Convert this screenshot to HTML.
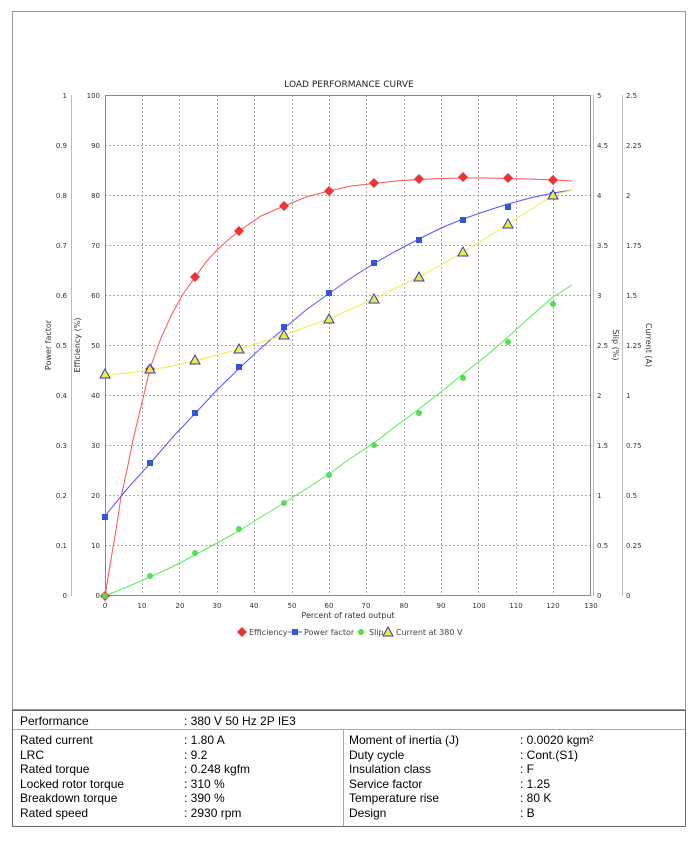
<!DOCTYPE html>
<html><head><meta charset="utf-8"><style>
body{margin:0;background:#fff;width:698px;height:841px;position:relative;font-family:"Liberation Sans",sans-serif}
.t{position:absolute;font-size:12px;color:#000}
</style></head><body>
<svg width="698" height="841" style="position:absolute;left:0;top:0" font-family="DejaVu Sans, sans-serif">
<rect x="12.5" y="11.5" width="673" height="698" fill="none" stroke="#999"/>
<text x="349" y="87" font-size="9" text-anchor="middle" fill="#222">LOAD PERFORMANCE CURVE</text>
<g stroke="#aaa" stroke-dasharray="2,2" stroke-width="1">
<line x1="142.5" y1="95" x2="142.5" y2="596"/><line x1="179.5" y1="95" x2="179.5" y2="596"/><line x1="217.5" y1="95" x2="217.5" y2="596"/><line x1="254.5" y1="95" x2="254.5" y2="596"/><line x1="292.5" y1="95" x2="292.5" y2="596"/><line x1="329.5" y1="95" x2="329.5" y2="596"/><line x1="366.5" y1="95" x2="366.5" y2="596"/><line x1="404.5" y1="95" x2="404.5" y2="596"/><line x1="441.5" y1="95" x2="441.5" y2="596"/><line x1="478.5" y1="95" x2="478.5" y2="596"/><line x1="516.5" y1="95" x2="516.5" y2="596"/><line x1="553.5" y1="95" x2="553.5" y2="596"/>
<line x1="105" y1="145.5" x2="591" y2="145.5"/><line x1="105" y1="195.5" x2="591" y2="195.5"/><line x1="105" y1="245.5" x2="591" y2="245.5"/><line x1="105" y1="295.5" x2="591" y2="295.5"/><line x1="105" y1="345.5" x2="591" y2="345.5"/><line x1="105" y1="395.5" x2="591" y2="395.5"/><line x1="105" y1="445.5" x2="591" y2="445.5"/><line x1="105" y1="495.5" x2="591" y2="495.5"/><line x1="105" y1="545.5" x2="591" y2="545.5"/>
</g>
<rect x="105.5" y="95.5" width="485" height="500" fill="none" stroke="#888"/>
<g stroke="#bbb"><line x1="71.5" y1="95" x2="71.5" y2="596"/><line x1="593.5" y1="95" x2="593.5" y2="596"/><line x1="622.5" y1="95" x2="622.5" y2="596"/></g>
<g font-size="7" fill="#333" text-anchor="end">
<text x="67" y="98">1</text><text x="67" y="148">0.9</text><text x="67" y="198">0.8</text><text x="67" y="248">0.7</text><text x="67" y="298">0.6</text><text x="67" y="348">0.5</text><text x="67" y="398">0.4</text><text x="67" y="448">0.3</text><text x="67" y="498">0.2</text><text x="67" y="548">0.1</text><text x="67" y="598">0</text>
<text x="100" y="98">100</text><text x="100" y="148">90</text><text x="100" y="198">80</text><text x="100" y="248">70</text><text x="100" y="298">60</text><text x="100" y="348">50</text><text x="100" y="398">40</text><text x="100" y="448">30</text><text x="100" y="498">20</text><text x="100" y="548">10</text><text x="100" y="598">0</text>
</g>
<g font-size="7" fill="#333">
<text x="597" y="98">5</text><text x="597" y="148">4.5</text><text x="597" y="198">4</text><text x="597" y="248">3.5</text><text x="597" y="298">3</text><text x="597" y="348">2.5</text><text x="597" y="398">2</text><text x="597" y="448">1.5</text><text x="597" y="498">1</text><text x="597" y="548">0.5</text><text x="597" y="598">0</text>
<text x="626" y="98">2.5</text><text x="626" y="148">2.25</text><text x="626" y="198">2</text><text x="626" y="248">1.75</text><text x="626" y="298">1.5</text><text x="626" y="348">1.25</text><text x="626" y="398">1</text><text x="626" y="448">0.75</text><text x="626" y="498">0.5</text><text x="626" y="548">0.25</text><text x="626" y="598">0</text>
</g>
<g font-size="7" fill="#333" text-anchor="middle">
<text x="105" y="608">0</text><text x="142" y="608">10</text><text x="180" y="608">20</text><text x="217" y="608">30</text><text x="254" y="608">40</text><text x="292" y="608">50</text><text x="329" y="608">60</text><text x="366" y="608">70</text><text x="404" y="608">80</text><text x="441" y="608">90</text><text x="479" y="608">100</text><text x="516" y="608">110</text><text x="553" y="608">120</text><text x="591" y="608">130</text>
<text x="348" y="618" font-size="8">Percent of rated output</text>
<text transform="translate(51,345) rotate(-90)" font-size="8">Power factor</text>
<text transform="translate(80,345) rotate(-90)" font-size="8">Efficiency (%)</text>
<text transform="translate(613,345) rotate(90)" font-size="8">Slip (%)</text>
<text transform="translate(646,345) rotate(90)" font-size="8">Current (A)</text>
</g>
<g fill="none" stroke-width="1">
<polyline stroke="#f55" points="105,596 110,565 116,530 121,497 127,470 133,440 139,415 145,390 150,368.5 161,338 172,314 183,294 195,277.5 206,262 217,250 228,240 239,231 261,216 284,206 306,197 329,191 351,186 374,183.5 396,181 419,179.5 441,178.5 463,178 486,178 508,178.5 530,179 553,180 572,181"/>
<polyline stroke="#55f" points="105,516 127,489 150,463.5 172,438 195,413.5 217,390 239,368.5 261,348 284,328.5 306,310 329,293.5 351,278 374,263.5 396,251 419,239 441,228 463,219 486,211 508,204 530,198 553,193 572,190"/>
<polyline stroke="#5e5" points="105,596 127,587 150,577 172,567 195,555 217,543 239,531 261,517 284,503 306,489 329,474 351,458 374,443 396,426 419,409 441,392 463,374 486,356 508,337 530,317 553,297 572,285"/>
<polyline stroke="#ee4" points="105,375 127,373 150,370 172,366 195,361 217,355 239,349 261,342 284,335 306,327 329,319 351,309 374,299 396,288 419,277 441,265 463,252 486,238 508,224 530,210 553,195 572,190"/>
</g>
<g fill="#e33">
<path d="M105,591l5,5-5,5-5-5z"/><path d="M150,364l5,5-5,5-5-5z"/><path d="M195,272l5,5-5,5-5-5z"/><path d="M239,226l5,5-5,5-5-5z"/><path d="M284,201l5,5-5,5-5-5z"/><path d="M329,186l5,5-5,5-5-5z"/><path d="M374,178l5,5-5,5-5-5z"/><path d="M419,174l5,5-5,5-5-5z"/><path d="M463,172l5,5-5,5-5-5z"/><path d="M508,173l5,5-5,5-5-5z"/><path d="M553,175l5,5-5,5-5-5z"/>
</g>
<g fill="#3355dd">
<rect x="102" y="514" width="6" height="6"/><rect x="147" y="460" width="6" height="6"/><rect x="192" y="410" width="6" height="6"/><rect x="236" y="364" width="6" height="6"/><rect x="281" y="324" width="6" height="6"/><rect x="326" y="290" width="6" height="6"/><rect x="371" y="260" width="6" height="6"/><rect x="416" y="237" width="6" height="6"/><rect x="460" y="217" width="6" height="6"/><rect x="505" y="204" width="6" height="6"/><rect x="550" y="192" width="6" height="6"/>
</g>
<g fill="#5d5">
<circle cx="105" cy="596" r="3"/><circle cx="150" cy="576" r="3"/><circle cx="195" cy="553" r="3"/><circle cx="239" cy="529" r="3"/><circle cx="284" cy="503" r="3"/><circle cx="329" cy="475" r="3"/><circle cx="374" cy="445" r="3"/><circle cx="419" cy="413" r="3"/><circle cx="463" cy="378" r="3"/><circle cx="508" cy="342" r="3"/><circle cx="553" cy="304" r="3"/>
</g>
<g fill="#ee3" stroke="#33c">
<path d="M105,369l5,9h-10z"/><path d="M150,364l5,9h-10z"/><path d="M195,355l5,9h-10z"/><path d="M239,344l5,9h-10z"/><path d="M284,330l5,9h-10z"/><path d="M329,314l5,9h-10z"/><path d="M374,294l5,9h-10z"/><path d="M419,272l5,9h-10z"/><path d="M463,247l5,9h-10z"/><path d="M508,219l5,9h-10z"/><path d="M553,190l5,9h-10z"/>
</g>
<g font-size="8" fill="#444">
<path d="M242,627l5,5-5,5-5-5z" fill="#e33"/><text x="249" y="635">Efficiency</text>
<line x1="288" y1="632" x2="302" y2="632" stroke="#55f"/><rect x="292" y="629" width="6" height="6" fill="#3355dd"/><text x="304" y="635">Power factor</text>
<line x1="355" y1="632" x2="367" y2="632" stroke="#ee4"/><circle cx="361" cy="632" r="3" fill="#5d5"/><text x="369" y="635">Slip</text>
<path d="M388,627l5,9h-10z" fill="#ee3" stroke="#33c"/><text x="396" y="635">Current at 380 V</text>
</g>
<rect x="12.5" y="710.5" width="673" height="116" fill="none" stroke="#666"/>
<line x1="13" y1="729.5" x2="685" y2="729.5" stroke="#aaa"/>
<line x1="343.5" y1="730" x2="343.5" y2="826" stroke="#aaa"/>
</svg>
<div class="t" style="left:20px;top:714px">Performance</div><div class="t" style="left:184px;top:714px">: 380 V 50 Hz 2P IE3</div>
<div class="t" style="left:20px;top:733px;line-height:14.5px">Rated current<br>LRC<br>Rated torque<br>Locked rotor torque<br>Breakdown torque<br>Rated speed</div>
<div class="t" style="left:184px;top:733px;line-height:14.5px">: 1.80 A<br>: 9.2<br>: 0.248 kgfm<br>: 310 %<br>: 390 %<br>: 2930 rpm</div>
<div class="t" style="left:349px;top:733px;line-height:14.5px">Moment of inertia (J)<br>Duty cycle<br>Insulation class<br>Service factor<br>Temperature rise<br>Design</div>
<div class="t" style="left:520px;top:733px;line-height:14.5px">: 0.0020 kgm²<br>: Cont.(S1)<br>: F<br>: 1.25<br>: 80 K<br>: B</div>
</body></html>
